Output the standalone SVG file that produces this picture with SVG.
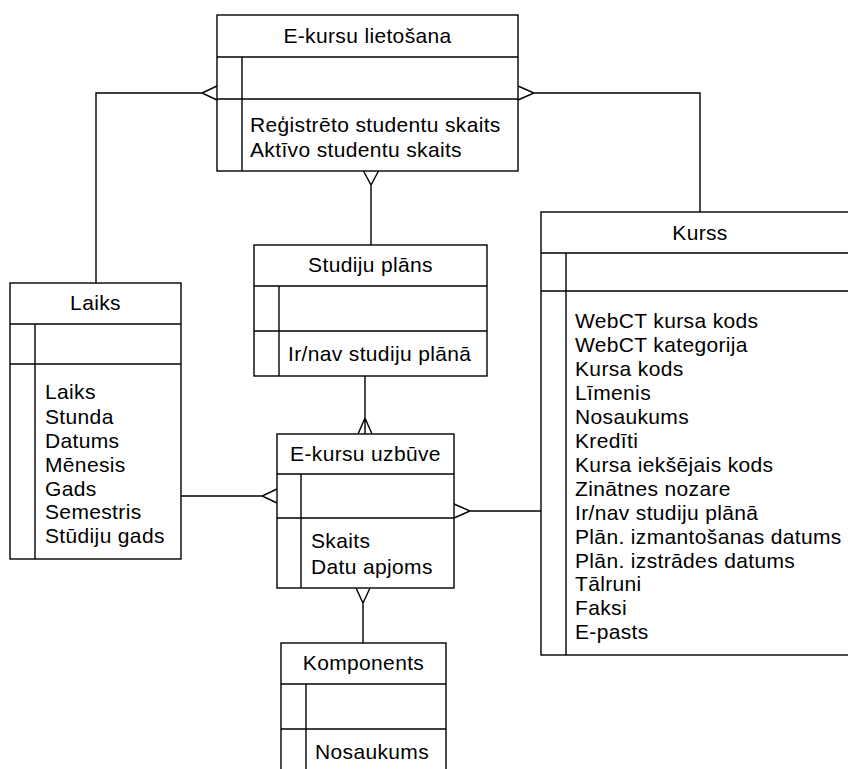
<svg xmlns="http://www.w3.org/2000/svg" width="848" height="769" viewBox="0 0 848 769">
  <style>
    .ent rect { fill: #fff; stroke: #000; stroke-width: 1.4; }
    .ent line { stroke: #000; stroke-width: 1.4; }
    .conn path { fill: none; stroke: #000; stroke-width: 1.4; }
    text { font-family: "Liberation Sans", Arial, sans-serif; font-size: 21px; letter-spacing: 0.35px; fill: #000; }
    .title { text-anchor: middle; }
  </style>
  <rect width="848" height="769" fill="#fff"/>

  <!-- relationships (crow's feet drawn at the "many" ends) -->
  <g id="connectors" class="conn">
    <!-- Laiks to E-kursu lietošana -->
    <path d="M96 283 V93 H202 M217 86 L202 93 L217 100"/>
    <!-- Kurss to E-kursu lietošana -->
    <path d="M700 212 V93 H534 M518 86 L534 93 L518 100"/>
    <!-- Studiju plāns to E-kursu lietošana -->
    <path d="M371 245 V185 M363.5 171 L371 185 L378.5 171"/>
    <!-- Studiju plāns to E-kursu uzbūve -->
    <path d="M365 376 V434 M358 434 L365 418 L372 434"/>
    <!-- Laiks to E-kursu uzbūve -->
    <path d="M181 496 H262 M277 489 L262 496 L277 503"/>
    <!-- Kurss to E-kursu uzbūve -->
    <path d="M541 511 H470 M454 504 L470 511 L454 518"/>
    <!-- Komponents to E-kursu uzbūve -->
    <path d="M363 643 V603 M356 588 L363 603 L370 588"/>
  </g>

  <g id="e-kursu-lietosana" class="ent">
    <rect x="217" y="15" width="301" height="156"/>
    <line x1="217" y1="57" x2="518" y2="57"/>
    <line x1="217" y1="99" x2="518" y2="99"/>
    <line x1="242" y1="57" x2="242" y2="171"/>
    <text class="title" x="367.5" y="43">E-kursu lietošana</text>
    <text x="250" y="132">Reģistrēto studentu skaits</text>
    <text x="250" y="157">Aktīvo studentu skaits</text>
  </g>

  <g id="laiks" class="ent">
    <rect x="10" y="283" width="171" height="276"/>
    <line x1="10" y1="324" x2="181" y2="324"/>
    <line x1="10" y1="364" x2="181" y2="364"/>
    <line x1="35" y1="324" x2="35" y2="559"/>
    <text class="title" x="95.5" y="310">Laiks</text>
    <text x="45" y="399">Laiks</text>
    <text x="45" y="424">Stunda</text>
    <text x="45" y="448">Datums</text>
    <text x="45" y="472">Mēnesis</text>
    <text x="45" y="496">Gads</text>
    <text x="45" y="519">Semestris</text>
    <text x="45" y="543">Stūdiju gads</text>
  </g>

  <g id="kurss" class="ent">
    <rect x="541" y="212" width="318" height="443"/>
    <line x1="541" y1="253" x2="859" y2="253"/>
    <line x1="541" y1="291" x2="859" y2="291"/>
    <line x1="566" y1="253" x2="566" y2="655"/>
    <text class="title" x="700" y="240">Kurss</text>
    <text x="575" y="328">WebCT kursa kods</text>
    <text x="575" y="352">WebCT kategorija</text>
    <text x="575" y="376">Kursa kods</text>
    <text x="575" y="400">Līmenis</text>
    <text x="575" y="424">Nosaukums</text>
    <text x="575" y="448">Kredīti</text>
    <text x="575" y="472">Kursa iekšējais kods</text>
    <text x="575" y="496">Zinātnes nozare</text>
    <text x="575" y="520">Ir/nav studiju plānā</text>
    <text x="575" y="544">Plān. izmantošanas datums</text>
    <text x="575" y="568">Plān. izstrādes datums</text>
    <text x="575" y="591">Tālruni</text>
    <text x="575" y="615">Faksi</text>
    <text x="575" y="639">E-pasts</text>
  </g>

  <g id="studiju-plans" class="ent">
    <rect x="254" y="245" width="233" height="131"/>
    <line x1="254" y1="286" x2="487" y2="286"/>
    <line x1="254" y1="331" x2="487" y2="331"/>
    <line x1="279" y1="286" x2="279" y2="376"/>
    <text class="title" x="370.5" y="272">Studiju plāns</text>
    <text x="288" y="361">Ir/nav studiju plānā</text>
  </g>

  <g id="e-kursu-uzbuve" class="ent">
    <rect x="277" y="434" width="177" height="154"/>
    <line x1="277" y1="474" x2="454" y2="474"/>
    <line x1="277" y1="518" x2="454" y2="518"/>
    <line x1="301" y1="474" x2="301" y2="588"/>
    <text class="title" x="365.5" y="461">E-kursu uzbūve</text>
    <text x="311" y="548">Skaits</text>
    <text x="311" y="574">Datu apjoms</text>
  </g>

  <g id="komponents" class="ent">
    <rect x="281" y="643" width="165" height="140"/>
    <line x1="281" y1="684" x2="446" y2="684"/>
    <line x1="281" y1="729" x2="446" y2="729"/>
    <line x1="306" y1="684" x2="306" y2="783"/>
    <text class="title" x="363.5" y="670">Komponents</text>
    <text x="315" y="759">Nosaukums</text>
  </g>
</svg>
